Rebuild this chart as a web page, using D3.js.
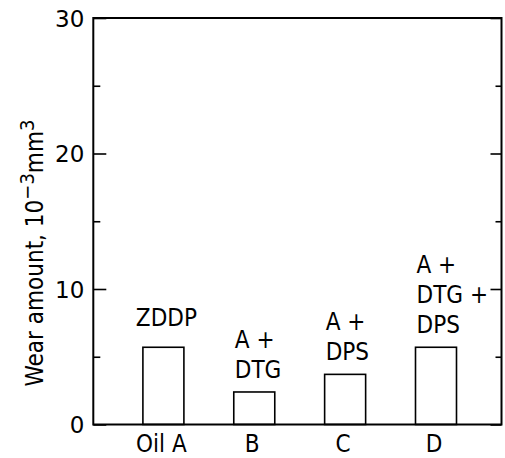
<!DOCTYPE html>
<html>
<head>
<meta charset="utf-8">
<script src="https://cdn.jsdelivr.net/npm/d3@7"></script>
<style>
  body { margin: 0; background: #fff; }
  text { font-family: "DejaVu Sans Condensed", "DejaVu Sans", sans-serif; fill: #000; }
</style>
</head>
<body>
<svg id="chart"></svg>
<script>
// wear amount for each oil
var categories = ["Oil A", "B", "C", "D"]
var wear = [5.7, 2.4, 3.7, 5.7]
var additives = [["ZDDP"], ["A +", "DTG"], ["A +", "DPS"], ["A +", "DTG +", "DPS"]]
var yTicks = [0, 10, 20, 30]
var yMinorTicks = [5, 15, 25]

var dims = { width: 505, height: 458, left: 93.3, right: 501.5, top: 18, bottom: 424.5 }

var svg = d3.select("#chart")
    .attr("width", dims.width)
    .attr("height", dims.height)

var yScale = d3.scaleLinear()
    .domain([0, 30])
    .range([dims.bottom, dims.top])

var xScale = d3.scalePoint()
    .domain(categories)
    .range([163.4, 436])

var barW = 41

// bars
svg.selectAll("rect.bar")
    .data(categories)
    .enter().append("rect")
    .attr("class", "bar")
    .attr("x", d => xScale(d) - barW / 2)
    .attr("y", (d, i) => yScale(wear[i]))
    .attr("width", barW)
    .attr("height", (d, i) => yScale(0) - yScale(wear[i]))
    .attr("fill", "none")
    .attr("stroke", "#000")
    .attr("stroke-width", 1.6)

// frame
svg.append("rect")
    .attr("x", dims.left)
    .attr("y", dims.top)
    .attr("width", dims.right - dims.left)
    .attr("height", dims.bottom - dims.top)
    .attr("fill", "none")
    .attr("stroke", "#000")
    .attr("stroke-width", 2)

// left axis, ticks pointing inward
svg.append("g")
    .attr("transform", "translate(" + dims.left + ",0)")
    .call(d3.axisRight(yScale).tickValues(yTicks).tickSize(13).tickFormat(""))
    .call(g => g.select(".domain").remove())
    .selectAll("line").attr("stroke-width", 1.6)
svg.append("g")
    .attr("transform", "translate(" + dims.left + ",0)")
    .call(d3.axisRight(yScale).tickValues(yMinorTicks).tickSize(7).tickFormat(""))
    .call(g => g.select(".domain").remove())
    .selectAll("line").attr("stroke-width", 1.6)

// right axis, ticks pointing inward
svg.append("g")
    .attr("transform", "translate(" + dims.right + ",0)")
    .call(d3.axisLeft(yScale).tickValues(yTicks).tickSize(11).tickFormat(""))
    .call(g => g.select(".domain").remove())
    .selectAll("line").attr("stroke-width", 1.6)
svg.append("g")
    .attr("transform", "translate(" + dims.right + ",0)")
    .call(d3.axisLeft(yScale).tickValues(yMinorTicks).tickSize(6).tickFormat(""))
    .call(g => g.select(".domain").remove())
    .selectAll("line").attr("stroke-width", 1.6)

// tick labels
svg.selectAll("text.ytick")
    .data(yTicks)
    .enter().append("text")
    .attr("class", "ytick")
    .attr("x", dims.left - 9)
    .attr("y", d => yScale(d))
    .attr("dy", "0.37em")
    .attr("text-anchor", "end")
    .style("font-family", "'DejaVu Sans', sans-serif")
    .style("font-size", "23px")
    .text(d => d)

svg.selectAll("text.xtick")
    .data(categories)
    .enter().append("text")
    .attr("class", "xtick")
    .attr("x", d => xScale(d) - 2)
    .attr("y", 452)
    .attr("text-anchor", "middle")
    .style("font-size", "24px")
    .text(d => d)

// additive labels above bars
var lineH = 30
svg.selectAll("g.note")
    .data(categories)
    .enter().append("g")
    .attr("class", "note")
    .each(function(d, i) {
        var lines = additives[i]
        var g = d3.select(this)
        var top = yScale(wear[i])
        lines.forEach(function(s, j) {
            g.append("text")
                .attr("x", lines.length == 1 ? xScale(d) + 3 : xScale(d) - barW / 2 + 1)
                .attr("y", top - (lines.length == 1 ? 21 : 14) - (lines.length - 1 - j) * lineH)
                .attr("text-anchor", lines.length == 1 ? "middle" : "start")
                .style("font-size", "24px")
                .text(s)
        })
    })

// y axis title
var ylab = svg.append("text")
    .attr("transform", "translate(43," + 253 + ") rotate(-90)")
    .attr("text-anchor", "middle")
    .style("font-size", "24px")
ylab.append("tspan").text("Wear amount, 10")
ylab.append("tspan").attr("dy", -9).style("font-size", "20px").text("\u22123")
ylab.append("tspan").attr("dy", 9).text("mm")
ylab.append("tspan").attr("dy", -9).style("font-size", "20px").text("3")
</script>
</body>
</html>
